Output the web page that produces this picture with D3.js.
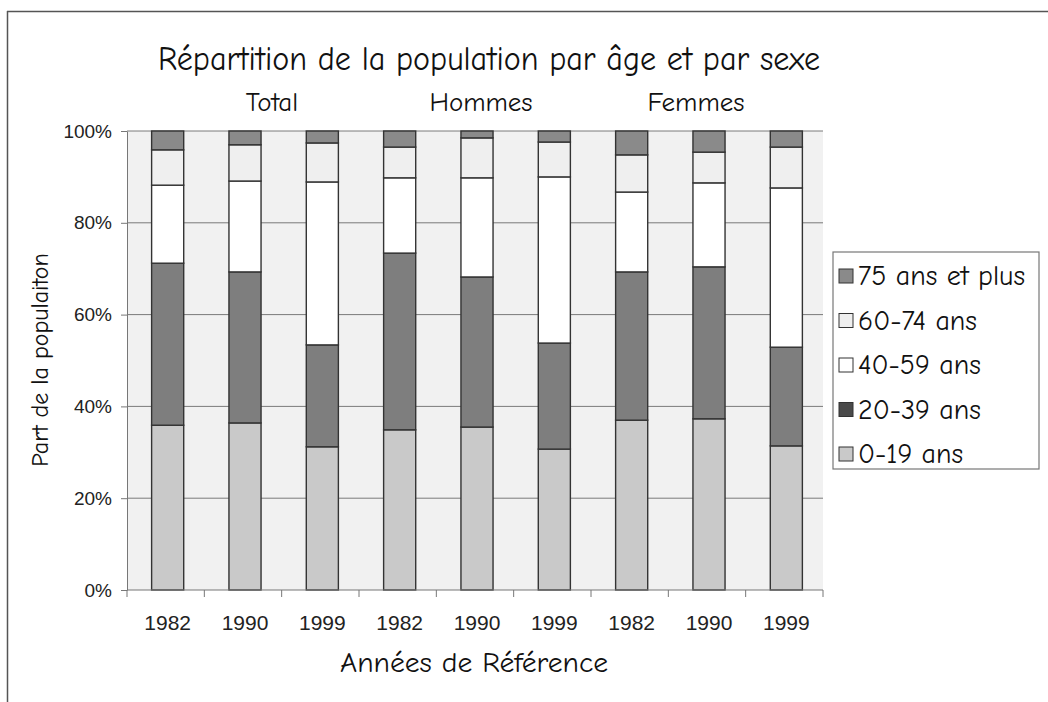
<!DOCTYPE html>
<html>
<head>
<meta charset="utf-8">
<script src="https://cdn.jsdelivr.net/npm/d3@7"></script>
<style>
  body { margin: 0; background: #fff; }
  svg { display: block; }
</style>
</head>
<body>
<div id="chart"></div>
<script>
// categories and values (% of population)
let years = ["1982", "1990", "1999", "1982", "1990", "1999", "1982", "1990", "1999"]
let groups = ["Total", "Hommes", "Femmes"]
let ageClasses = ["0-19 ans", "20-39 ans", "40-59 ans", "60-74 ans", "75 ans et plus"]

let age0_19  = [35.9, 36.4, 31.2, 34.9, 35.5, 30.7, 37.0, 37.3, 31.4]
let age20_39 = [35.3, 32.9, 22.2, 38.5, 32.7, 23.1, 32.3, 33.1, 21.5]
let age40_59 = [17.0, 19.8, 35.5, 16.4, 21.6, 36.2, 17.4, 18.3, 34.7]
let age60_74 = [7.7, 7.9, 8.5, 6.7, 8.7, 7.6, 8.1, 6.7, 8.9]
let age75    = [4.1, 3.0, 2.6, 3.5, 1.5, 2.4, 5.2, 4.6, 3.5]

let yTicks = [0, 20, 40, 60, 80, 100]

let colors = ["#c9c9c9", "#7e7e7e", "#ffffff", "#efefef", "#8a8a8a"]
let legendColors = ["#c9c9c9", "#4a4a4a", "#ffffff", "#efefef", "#8a8a8a"]
let comic = "'Comic Sans MS', 'Comic Neue', Lato, sans-serif"
let arial = "Arial, 'Liberation Sans', sans-serif"

let W = 1048, H = 702
let plotLeft = 127, plotRight = 823, plotTop = 131, plotBottom = 590

let svg = d3.select("#chart").append("svg").attr("width", W).attr("height", H)

// outer frame (top and left edges visible)
svg.append("line").attr("x1", 7).attr("x2", W).attr("y1", 11.5).attr("y2", 11.5)
  .attr("stroke", "#555").attr("stroke-width", 1.5)
svg.append("line").attr("x1", 7.5).attr("x2", 7.5).attr("y1", 11).attr("y2", H)
  .attr("stroke", "#555").attr("stroke-width", 1.5)

let idx = d3.range(years.length)
let x = d3.scaleBand().domain(idx).range([plotLeft, plotRight]).padding(0)
let step = x.step()
let barW = step * 0.415
let barX = i => x(i) + (step - barW) / 2 + 2
let y = d3.scaleLinear().domain([0, 100]).range([plotBottom, plotTop])

// plot background
svg.append("rect").attr("x", plotLeft).attr("y", plotTop)
  .attr("width", plotRight - plotLeft).attr("height", plotBottom - plotTop)
  .attr("fill", "#f1f1f1")

// gridlines
svg.append("g").selectAll("line").data(yTicks.slice(1)).join("line")
  .attr("x1", plotLeft).attr("x2", plotRight)
  .attr("y1", d => y(d)).attr("y2", d => y(d))
  .attr("stroke", "#7a7a7a").attr("stroke-width", 1)

// stacked data
let table = idx.map(i => ({
  i: i,
  a0: age0_19[i], a1: age20_39[i], a2: age40_59[i], a3: age60_74[i], a4: age75[i]
}))
let stack = d3.stack().keys(["a0", "a1", "a2", "a3", "a4"]).offset(d3.stackOffsetExpand)
let series = stack(table)

svg.append("g").selectAll("g").data(series).join("g")
  .attr("fill", (d, k) => colors[k])
  .selectAll("rect").data(d => d).join("rect")
  .attr("x", d => barX(d.data.i))
  .attr("y", d => y(d[1] * 100))
  .attr("width", barW)
  .attr("height", d => y(d[0] * 100) - y(d[1] * 100))
  .attr("stroke", "#333").attr("stroke-width", 1.4)

// y axis
let yAxis = d3.axisLeft(y).tickValues(yTicks).tickFormat(d => d + "%").tickSize(6).tickSizeOuter(0)
let gy = svg.append("g").attr("transform", "translate(" + plotLeft + ",0)").call(yAxis)
gy.select(".domain").attr("stroke", "#777")
gy.selectAll(".tick line").attr("stroke", "#777")
gy.selectAll("text").attr("font-family", arial)
  .attr("font-size", 19).attr("fill", "#222").attr("x", -15)

// x axis, ticks between categories
let gx = svg.append("g").attr("transform", "translate(0," + plotBottom + ")")
gx.append("line").attr("x1", plotLeft).attr("x2", plotRight).attr("stroke", "#777")
gx.selectAll(".sep").data(d3.range(years.length + 1)).join("line")
  .attr("class", "sep")
  .attr("x1", d => plotLeft + d * step).attr("x2", d => plotLeft + d * step)
  .attr("y1", 0).attr("y2", 7).attr("stroke", "#777")
gx.selectAll(".yr").data(idx).join("text")
  .attr("class", "yr")
  .attr("x", d => barX(d) + barW / 2).attr("y", 40)
  .attr("text-anchor", "middle")
  .attr("font-family", arial).attr("font-size", 21).attr("fill", "#222")
  .text(d => years[d])

// titles
svg.append("text").attr("x", 489).attr("y", 70).attr("text-anchor", "middle")
  .attr("font-family", comic).attr("font-size", 34).attr("fill", "#111")
  .attr("textLength", 662).attr("lengthAdjust", "spacingAndGlyphs")
  .text("Répartition de la population par âge et par sexe")

let groupX = [272, 481, 696]
svg.append("g").selectAll("text").data(groups).join("text")
  .attr("x", (d, g) => groupX[g])
  .attr("y", 111).attr("text-anchor", "middle")
  .attr("font-family", comic).attr("font-size", 27).attr("fill", "#111")
  .text(d => d)

svg.append("text").attr("transform", "translate(48,360) rotate(-90)").attr("text-anchor", "middle")
  .attr("font-family", comic).attr("font-size", 24).attr("fill", "#111")
  .text("Part de la populaiton")

svg.append("text").attr("x", 474).attr("y", 672).attr("text-anchor", "middle")
  .attr("font-family", comic).attr("font-size", 28).attr("fill", "#111")
  .attr("textLength", 268).attr("lengthAdjust", "spacingAndGlyphs")
  .text("Années de Référence")

// legend
let lg = svg.append("g")
lg.append("rect").attr("x", 833).attr("y", 252).attr("width", 206).attr("height", 217)
  .attr("fill", "#fff").attr("stroke", "#777").attr("stroke-width", 1.2)
let order = [4, 3, 2, 1, 0]
let items = lg.selectAll(".item").data(order).join("g")
  .attr("class", "item")
  .attr("transform", (d, r) => "translate(839," + (277 + r * 44.5) + ")")
items.append("rect").attr("x", 0).attr("y", -8).attr("width", 14).attr("height", 14)
  .attr("fill", d => legendColors[d]).attr("stroke", "#333").attr("stroke-width", 1)
items.append("text").attr("x", 19).attr("y", 8)
  .attr("font-family", comic).attr("font-size", 28).attr("fill", "#111")
  .text(d => ageClasses[d])
</script>
</body>
</html>
